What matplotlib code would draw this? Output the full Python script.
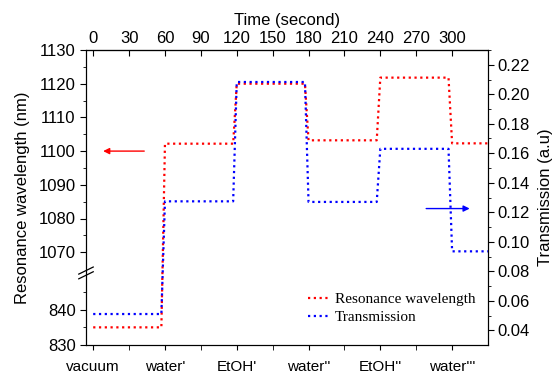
import numpy as np
import matplotlib
matplotlib.use("Agg")
import matplotlib.pyplot as plt

plt.rcParams["font.family"] = ["Liberation Sans", "DejaVu Sans"]

# time (s) of each step corner, shared by both curves
TIME = [0, 57, 60, 117, 120, 177, 180, 237, 240, 297, 300, 330]
WAVELENGTH = [835, 835, 1102.2, 1102.2, 1120, 1120, 1103.2, 1103.2,
              1121.8, 1121.8, 1102.3, 1102.3]
TRANSMISSION = [0.051, 0.051, 0.1274, 0.1274, 0.2083, 0.2083, 0.127, 0.127,
                0.163, 0.163, 0.0935, 0.0935]
STAGE_TICKS = [0, 60, 120, 180, 240, 300]
STAGES = ["vacuum", "water'", "EtOH'", "water''", "EtOH''", "water'''"]
TIME_TICKS = list(range(0, 301, 30))

# broken left axis: 830-850 at the bottom, 1064-1130 above
LO_A, LO_B, HI_A, HI_B = 830, 850, 1064, 1130
K_LO, K_HI = 3.53, 3.37
TOTAL = 295.0
LO_END = (LO_B - LO_A) * K_LO
HI_START = TOTAL - (HI_B - HI_A) * K_HI


def fwd(y):
    y = np.asarray(y, dtype=float)
    lo = (y - LO_A) * K_LO
    hi = TOTAL - (HI_B - y) * K_HI
    mid = LO_END + (y - LO_B) / (HI_A - LO_B) * (HI_START - LO_END)
    return np.where(y <= LO_B, lo, np.where(y >= HI_A, hi, mid))


def inv(v):
    v = np.asarray(v, dtype=float)
    lo = LO_A + v / K_LO
    hi = HI_B - (TOTAL - v) / K_HI
    mid = LO_B + (v - LO_END) / (HI_START - LO_END) * (HI_A - LO_B)
    return np.where(v <= LO_END, lo, np.where(v >= HI_START, hi, mid))


fig = plt.figure(figsize=(5.53, 3.79), dpi=100)
ax = fig.add_axes([86 / 553, 1 - 345 / 379, 402 / 553, 295 / 379])
ax2 = ax.twinx()

ax.set_yscale("function", functions=(fwd, inv))
ax.set_xlim(-6, 330)
ax.set_ylim(830, 1130)
ax2.set_ylim(0.03, 0.23)

l1, = ax.plot(TIME, WAVELENGTH, color="red", lw=1.6, ls=(0, (1, 1.6)),
              label="Resonance wavelength")
l2, = ax2.plot(TIME, TRANSMISSION, color="blue", lw=1.6, ls=(0, (1, 1.6)),
               label="Transmission")

# left axis ticks
ax.set_yticks([830, 840, 1070, 1080, 1090, 1100, 1110, 1120, 1130])
ax.set_yticks([835, 845, 1075, 1085, 1095, 1105, 1115, 1125], minor=True)
ax.tick_params(axis="y", which="major", direction="out", length=4.5, labelsize=12, pad=3)
ax.tick_params(axis="y", which="minor", direction="out", length=2.5)
ax.set_ylabel("Resonance wavelength (nm)", fontsize=12, labelpad=6)

# bottom: stages
ax.set_xticks(STAGE_TICKS, labels=STAGES)
ax.set_xticks([30, 90, 150, 210, 270], minor=True)
ax.tick_params(axis="x", which="both", direction="out", length=3.5, labelsize=11, pad=7)

# top: time
top = ax.secondary_xaxis("top")
top.set_xticks(TIME_TICKS)
top.tick_params(axis="x", direction="in", length=4, labelsize=12, pad=3)
top.set_xlabel("Time (second)", fontsize=12, labelpad=4)

# right axis
ax2.set_yticks(np.arange(0.04, 0.2201, 0.02))
ax2.set_yticks(np.arange(0.05, 0.2301, 0.02), minor=True)
ax2.yaxis.set_major_formatter(matplotlib.ticker.FormatStrFormatter("%.2f"))
ax2.tick_params(axis="y", which="major", direction="out", length=4.5, labelsize=12, pad=2)
ax2.tick_params(axis="y", which="minor", direction="out", length=2.5)
ax2.set_ylabel("Transmission (a.u)", fontsize=12, labelpad=6)

# axis break marks on the left spine
yb = fwd(LO_B) / TOTAL + 0.005
for off in (-0.008, 0.008):
    ax.plot([-0.018, 0.018], [yb + off - 0.012, yb + off + 0.012],
            transform=ax.transAxes, color="black", lw=0.9, clip_on=False)

# direction arrows
ax.annotate("", xy=(6, 1100), xytext=(45, 1100),
            arrowprops=dict(arrowstyle="-|>", color="red", lw=1, mutation_scale=9))
ax2.annotate("", xy=(317, 0.1225), xytext=(276, 0.1225),
             arrowprops=dict(arrowstyle="-|>", color="blue", lw=1, mutation_scale=9))

ax2.legend(handles=[l1, l2], loc="lower left", bbox_to_anchor=(0.552, 0.07),
           frameon=False, borderaxespad=0, borderpad=0, handlelength=1.45,
           handletextpad=0.3, labelspacing=0.3,
           prop={"family": "Liberation Serif", "size": 11})

fig.savefig("out.png", dpi=100)
